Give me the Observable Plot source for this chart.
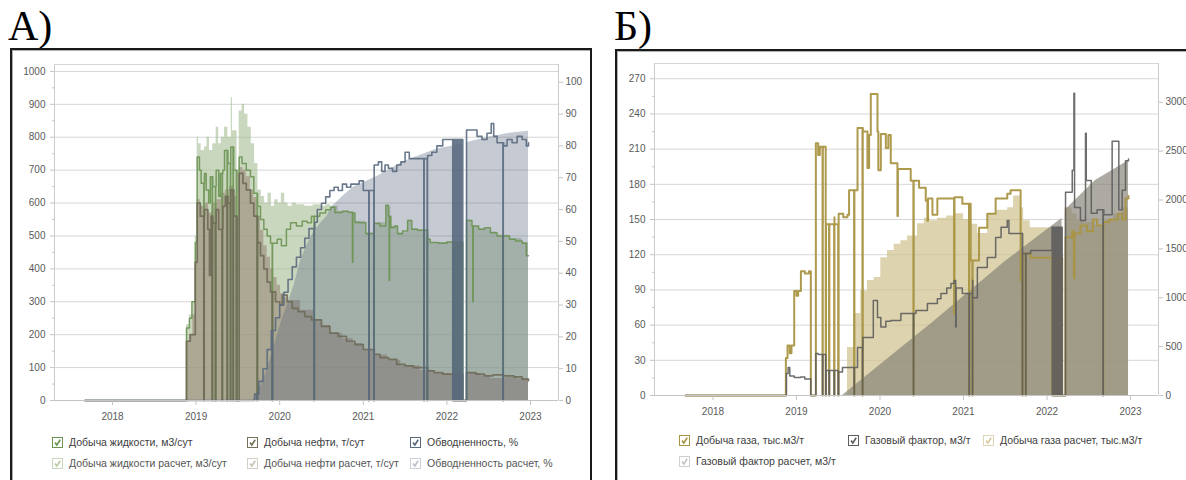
<!DOCTYPE html>
<html><head><meta charset="utf-8">
<script src="https://cdn.jsdelivr.net/npm/d3@7"></script>
<script src="https://cdn.jsdelivr.net/npm/@observablehq/plot@0.6"></script>
<style>
body{margin:0;background:#fff;width:1186px;height:480px;overflow:hidden;position:relative;font-family:"Liberation Sans",Arial,sans-serif;}
.lbl{position:absolute;font-family:"Liberation Serif","Times New Roman",serif;font-size:42px;line-height:42px;color:#000;}
.box{position:absolute;border:2px solid #1a1a1a;box-shadow:inset 1px 1px 0 #b0b0b0;background:#fff;}
.chart{position:absolute;}
.leg{position:absolute;font-size:10.5px;color:#404040;white-space:nowrap;display:flex;align-items:center;height:14px;}
.cb{display:inline-block;box-sizing:border-box;width:11px;height:11px;border:1px solid;margin-right:6px;background:#fff;position:relative;}
.cb svg{position:absolute;left:0;top:0;}
</style></head>
<body>
<div class="lbl" style="left:8px;top:5px;">А)</div>
<div class="lbl" style="left:614px;top:5px;">Б)</div>
<div class="box" style="left:10px;top:48px;width:578px;height:460px;"></div>
<div class="box" style="left:615px;top:49px;width:600px;height:460px;"></div>
<div id="chartA" class="chart" style="left:12px;top:50px;"></div>
<div id="chartB" class="chart" style="left:617px;top:50px;"></div>
<div id="legends"></div>
<script>
// ---------- ticks ----------
const yearTicks = [2018, 2019, 2020, 2021, 2022, 2023];
const leftTicksA = [0, 100, 200, 300, 400, 500, 600, 700, 800, 900, 1000];
const rightTicksA = [0, 10, 20, 30, 40, 50, 60, 70, 80, 90, 100];
const leftTicksB = [0, 30, 60, 90, 120, 150, 180, 210, 240, 270];
const rightTicksB = [0, 500, 1000, 1500, 2000, 2500, 3000];

// ---------- Panel A data (decimal year, value) ----------
const liqFactA = [[2017.67,0],[2018.885,220],[2018.92,250],[2018.95,300],[2018.99,480],[2019.013,740],[2019.04,700],[2019.06,660],[2019.1,690],[2019.12,640],[2019.15,600],[2019.17,680],[2019.2,650],[2019.24,700],[2019.27,620],[2019.29,690],[2019.32,700],[2019.34,760],[2019.38,720],[2019.415,770],[2019.45,700],[2019.49,0],[2019.515,740],[2019.55,720],[2019.6,700],[2019.65,680],[2019.69,630],[2019.735,590],[2019.77,550],[2019.81,520],[2019.85,500],[2019.89,478],[2019.97,490],[2020.02,470],[2020.08,520],[2020.13,540],[2020.2,530],[2020.27,545],[2020.33,540],[2020.38,560],[2020.48,570],[2020.55,580],[2020.61,587],[2020.66,571],[2020.75,575],[2020.82,572],[2020.87,420],[2020.875,570],[2020.9,541],[2020.96,540],[2021.03,507],[2021.13,538],[2021.2,530],[2021.27,593],[2021.3,560],[2021.31,365],[2021.315,560],[2021.33,526],[2021.38,530],[2021.41,507],[2021.47,515],[2021.53,547],[2021.58,520],[2021.65,517],[2021.77,490],[2021.8,480],[2021.9,478],[2022.0,482],[2022.19,0],[2022.235,547],[2022.3,530],[2022.31,300],[2022.315,530],[2022.38,520],[2022.45,525],[2022.52,510],[2022.6,500],[2022.75,490],[2022.82,485],[2022.9,478],[2022.95,440],[2022.976,440]];
const oilFactA = [[2017.67,0],[2018.885,180],[2018.93,200],[2018.99,420],[2019.013,600],[2019.05,560],[2019.1,580],[2019.14,520],[2019.16,380],[2019.18,560],[2019.2,540],[2019.24,580],[2019.27,520],[2019.32,590],[2019.35,620],[2019.38,600],[2019.415,640],[2019.45,560],[2019.49,0],[2019.515,690],[2019.56,660],[2019.6,640],[2019.65,600],[2019.69,560],[2019.735,480],[2019.77,440],[2019.81,400],[2019.85,360],[2019.89,330],[2019.95,300],[2020.0,290],[2020.03,320],[2020.09,300],[2020.15,280],[2020.22,270],[2020.3,255],[2020.38,245],[2020.5,225],[2020.6,205],[2020.7,195],[2020.8,180],[2020.9,170],[2021.0,155],[2021.13,140],[2021.2,130],[2021.3,125],[2021.4,110],[2021.5,105],[2021.6,100],[2021.77,90],[2021.85,85],[2021.95,80],[2022.19,0],[2022.235,85],[2022.35,80],[2022.45,75],[2022.55,78],[2022.68,75],[2022.8,72],[2022.9,65],[2022.976,60]];
const wcFactA = [[2017.67,0],[2019.66,0],[2019.7,2],[2019.75,6],[2019.8,10],[2019.85,16],[2019.9,22],[2019.95,26],[2020.0,30],[2020.05,34],[2020.1,38],[2020.15,42],[2020.2,45],[2020.25,48],[2020.3,51],[2020.35,54],[2020.42,56],[2020.45,60],[2020.5,62],[2020.55,64],[2020.6,66],[2020.65,67],[2020.7,66],[2020.75,68],[2020.8,67],[2020.85,68],[2020.95,69],[2021.0,66],[2021.13,74],[2021.18,75],[2021.22,72],[2021.26,74],[2021.3,73],[2021.35,72],[2021.4,74],[2021.45,75],[2021.5,78],[2021.55,76],[2021.77,77],[2021.82,78],[2021.88,80],[2021.95,82],[2022.19,0],[2022.235,85],[2022.32,85],[2022.36,83],[2022.42,82],[2022.48,84],[2022.53,87],[2022.56,83],[2022.6,81],[2022.68,80],[2022.72,82],[2022.78,81],[2022.84,83],[2022.9,82],[2022.95,80],[2022.976,81]];
const liqCalcA = [[2018.885,230],[2018.92,260],[2018.96,300],[2018.99,500],[2019.013,800],[2019.03,780],[2019.06,760],[2019.1,770],[2019.13,800],[2019.16,760],[2019.2,780],[2019.24,830],[2019.27,780],[2019.3,800],[2019.34,830],[2019.38,800],[2019.42,920],[2019.435,820],[2019.49,0],[2019.515,880],[2019.55,900],[2019.58,870],[2019.62,830],[2019.66,780],[2019.7,720],[2019.74,640],[2019.78,620],[2019.82,600],[2019.86,630],[2019.9,590],[2019.94,610],[2019.98,600],[2020.02,630],[2020.06,600],[2020.1,590],[2020.15,600],[2020.2,595],[2020.3,590],[2020.4,595],[2020.5,590],[2020.55,595],[2020.61,590],[2020.7,575],[2020.82,572],[2020.9,545],[2021.03,510],[2021.13,540],[2021.27,590],[2021.33,530],[2021.41,510],[2021.53,548],[2021.58,522],[2021.65,518],[2021.76,490],[2021.8,480],[2022.0,482],[2022.19,0],[2022.235,548],[2022.3,530],[2022.38,522],[2022.52,512],[2022.6,502],[2022.75,492],[2022.9,480],[2022.976,450]];
const oilCalcA = [[2018.885,180],[2018.92,200],[2018.96,260],[2018.99,420],[2019.013,610],[2019.05,590],[2019.1,600],[2019.15,570],[2019.2,600],[2019.25,610],[2019.3,630],[2019.35,640],[2019.4,650],[2019.45,620],[2019.49,0],[2019.515,708],[2019.56,700],[2019.6,680],[2019.65,640],[2019.69,617],[2019.73,560],[2019.77,517],[2019.81,470],[2019.85,435],[2019.89,400],[2019.93,374],[2019.97,350],[2020.01,325],[2020.05,314],[2020.09,304],[2020.25,274],[2020.41,243],[2020.5,228],[2020.61,204],[2020.75,188],[2020.88,173],[2021.0,155],[2021.15,138],[2021.29,122],[2021.45,105],[2021.68,91],[2021.85,82],[2022.04,76],[2022.19,0],[2022.235,82],[2022.4,75],[2022.52,67],[2022.7,70],[2022.85,65],[2022.976,60]];
const wcCalcA = [[2019.68,0],[2019.8,6],[2019.9,14],[2020.0,23],[2020.09,30],[2020.17,36],[2020.25,44],[2020.33,49],[2020.41,53],[2020.5,56],[2020.57,58],[2020.61,60.5],[2020.75,64],[2020.88,67],[2021.17,70.5],[2021.48,75],[2021.88,79],[2022.185,80.5],[2022.19,0],[2022.23,0],[2022.235,81],[2022.49,82.7],[2022.75,84],[2022.976,84.6]];
const stopsA = [2019.092,2019.192,2019.231,2019.311,2019.371,2019.41,2019.442,2019.482,2019.73,2019.91,2020.41,2021.066,2021.126,2021.724,2021.764,2022.07,2022.082,2022.094,2022.106,2022.118,2022.13,2022.142,2022.154,2022.166,2022.176,2022.67];

// ---------- Panel B data ----------
const gasFactB = [[2017.67,0],[2018.873,32],[2018.893,42.6],[2018.92,36],[2018.94,42.6],[2018.973,89],[2019.0,85],[2019.02,89],[2019.053,106],[2019.1,104],[2019.15,106],[2019.172,0],[2019.232,215],[2019.26,205],[2019.28,212],[2019.315,146],[2019.455,152],[2019.499,0],[2019.505,155],[2019.56,152],[2019.611,154],[2019.63,175],[2019.731,228],[2019.795,225],[2019.85,194],[2019.87,222],[2019.89,257],[2019.97,225],[2019.98,192],[2020.01,223],[2020.07,211],[2020.1,222],[2020.129,198],[2020.209,153],[2020.215,193],[2020.368,183],[2020.468,177],[2020.548,166],[2020.568,149],[2020.575,168],[2020.628,154],[2020.687,168],[2020.887,70],[2020.892,169],[2020.986,163.5],[2021.07,146],[2021.086,115],[2021.186,143],[2021.285,155],[2021.385,168],[2021.524,172],[2021.564,175],[2021.684,98],[2021.708,121],[2021.804,117.5],[2022.182,0],[2022.222,135],[2022.3,140],[2022.322,100],[2022.33,138],[2022.4,145],[2022.48,140],[2022.55,150],[2022.6,145],[2022.68,148],[2022.75,150],[2022.85,155],[2022.9,150],[2022.94,168],[2022.976,170]];
const gfFactB = [[2017.67,0],[2018.873,0],[2018.88,225],[2018.9,287],[2018.92,200],[2018.973,184],[2019.05,190],[2019.1,170],[2019.172,0],[2019.232,430],[2019.26,420],[2019.315,256],[2019.499,0],[2019.505,240],[2019.551,287],[2019.731,491],[2019.795,594],[2019.92,972],[2019.97,798],[2020.01,700],[2020.07,760],[2020.129,768],[2020.25,839],[2020.43,870],[2020.568,942],[2020.687,990],[2020.73,1044],[2020.8,1100],[2020.85,1146],[2020.887,1177],[2020.907,700],[2020.912,1100],[2020.986,1044],[2021.07,1000],[2021.11,1180],[2021.166,1310],[2021.285,1412],[2021.385,1617],[2021.45,1720],[2021.524,1791],[2021.544,1658],[2021.708,1453],[2021.804,1484],[2022.06,1720],[2022.182,0],[2022.222,2078],[2022.302,2303],[2022.322,3091],[2022.33,1924],[2022.4,1791],[2022.461,2682],[2022.47,2200],[2022.53,1863],[2022.6,1900],[2022.68,1850],[2022.78,2600],[2022.86,1900],[2022.9,2100],[2022.94,2400],[2022.976,2420]];
const gasCalcB = [[2019.551,0],[2019.611,41],[2019.69,70],[2019.77,89],[2019.85,98],[2019.93,100.5],[2020.01,117.5],[2020.09,123.5],[2020.17,129],[2020.25,132],[2020.33,136],[2020.45,146.5],[2020.53,151],[2020.6,149],[2020.69,151],[2020.8,153],[2020.88,155],[2021.0,150],[2021.1,146],[2021.17,138],[2021.29,155],[2021.4,158],[2021.53,160],[2021.6,170],[2021.68,160],[2021.72,149],[2021.8,143],[2022.04,143],[2022.185,0],[2022.215,160],[2022.3,155],[2022.36,149],[2022.45,148],[2022.58,145],[2022.7,150],[2022.8,155],[2022.9,160],[2022.976,160]];
const gfCalcB = [[2019.551,0],[2020.49,650],[2020.61,731],[2021.5,1370],[2022.04,1720],[2022.18,1810],[2022.185,0],[2022.215,0],[2022.22,1900],[2022.25,1924],[2022.58,2200],[2022.976,2400]];
const stopsB = [2019.312,2019.35,2019.39,2019.451,2019.69,2019.79,2020.40,2021.066,2021.106,2021.704,2021.744,2022.063,2022.075,2022.087,2022.099,2022.111,2022.123,2022.135,2022.147,2022.159,2022.171,2022.67];

// ---------- legend labels ----------
const legendA = [
  ["Добыча жидкости, м3/сут", "Добыча нефти, т/сут", "Обводненность, %"],
  ["Добыча жидкости расчет, м3/сут", "Добыча нефти расчет, т/сут", "Обводненность расчет, %"]
];
const legendB = [
  ["Добыча газа, тыс.м3/т", "Газовый фактор, м3/т", "Добыча газа расчет, тыс.м3/т"],
  ["Газовый фактор расчет, м3/т"]
];

// insert shutdown drops (value 0 at each read stop date)
function withStops(arr, stops) {
  const out = arr.map(d => [d[0], d[1]]);
  const t0 = arr[0][0], t1 = arr[arr.length - 1][0];
  for (const s of stops) {
    if (s <= t0 || s >= t1) continue;
    let v = arr[0][1];
    for (const d of arr) { if (d[0] <= s) v = d[1]; else break; }
    out.push([s, 0], [s + 0.004, v]);
  }
  return out.sort((a, b) => a[0] - b[0]);
}

const tickColor = "#c4c4c4", labelColor = "#5a5a5a";

function makePanel(o) {
  const X = d => d[0];
  const marks = [
    Plot.gridY(o.leftTicks.filter(v => v > 0), {stroke: "#d6d6d6", strokeOpacity: 1}),
    Plot.ruleY([o.yMax], {stroke: "#d6d6d6"}),
    Plot.ruleX([o.xDomain[0], o.xDomain[1]], {stroke: "#cccccc"})
  ];
  for (const a of o.areas) {
    marks.push(Plot.areaY(a.data, {x: X, y: d => d[1] * a.k, curve: a.curve, fill: a.fill, fillOpacity: a.opacity}));
  }
  for (const l of o.lines) {
    marks.push(Plot.line(l.data, {x: X, y: d => d[1] * l.k, curve: "step-after", stroke: l.color, strokeWidth: l.width, strokeOpacity: l.opacity}));
  }
  marks.push(
    Plot.ruleY([0], {stroke: tickColor}),
    Plot.axisX({ticks: yearTicks, tickFormat: d => String(d), tickSize: 5, tickPadding: 7, stroke: tickColor, fill: labelColor, label: null}),
    Plot.axisY({anchor: "left", ticks: o.leftTicks, tickFormat: d => String(d), tickSize: 4, tickPadding: 5, stroke: tickColor, fill: labelColor, label: null}),
    Plot.axisY({anchor: "left", ticks: o.leftMinor, tickSize: 2, tickFormat: () => "", stroke: tickColor, label: null}),
    Plot.axisY({anchor: "right", ticks: o.rightTicks.map(v => v * o.k), tickFormat: d => String(Math.round(d / o.k)), tickSize: 4, tickPadding: 3, stroke: tickColor, fill: labelColor, label: null})
  );
  return Plot.plot({
    width: o.width, height: o.height,
    marginLeft: o.ml, marginRight: o.mr, marginTop: o.mt, marginBottom: o.mb,
    x: {domain: o.xDomain, label: null},
    y: {domain: [0, o.yMax], label: null},
    style: {background: "transparent", fontFamily: "Liberation Sans, Arial, sans-serif", fontSize: "10px", overflow: "visible"},
    marks
  });
}

const kA = 9.67;
const chartA = makePanel({
  width: 580, height: 382, ml: 42, mr: 34, mt: 14, mb: 32,
  xDomain: [2017.306, 2023.335], yMax: 1021,
  leftTicks: leftTicksA, leftMinor: leftTicksA.slice(0, -1).map(v => v + 50),
  rightTicks: rightTicksA, k: kA,
  areas: [
    {data: liqCalcA, k: 1, curve: "step-after", fill: "#a5bc94", opacity: 0.6},
    {data: oilCalcA, k: 1, curve: "step-after", fill: "#998977", opacity: 0.6},
    {data: wcCalcA, k: kA, curve: "linear", fill: "#5c6881", opacity: 0.35}
  ],
  lines: [
    {data: withStops(liqFactA, stopsA), k: 1, color: "#6c9452", width: 1.5, opacity: 0.9},
    {data: withStops(oilFactA, stopsA), k: 1, color: "#6f6a58", width: 1.7, opacity: 0.9},
    {data: withStops(wcFactA, stopsA), k: kA, color: "#5a6a80", width: 1.6, opacity: 0.9}
  ]
});
document.getElementById("chartA").appendChild(chartA);

const kB = 1 / 12;
const chartB = makePanel({
  width: 569, height: 382, ml: 37, mr: 28, mt: 13, mb: 37,
  xDomain: [2017.30, 2023.335], yMax: 283,
  leftTicks: leftTicksB, leftMinor: leftTicksB.slice(0, -1).map(v => v + 15),
  rightTicks: rightTicksB, k: kB,
  areas: [
    {data: gasCalcB, k: 1, curve: "step-after", fill: "#cfc18c", opacity: 0.7},
    {data: gfCalcB, k: kB, curve: "linear", fill: "#858276", opacity: 0.68}
  ],
  lines: [
    {data: withStops(gasFactB, stopsB), k: 1, color: "#a99543", width: 2, opacity: 0.95},
    {data: withStops(gfFactB, stopsB), k: kB, color: "#5d5d5d", width: 1.5, opacity: 0.9}
  ]
});
document.getElementById("chartB").appendChild(chartB);

// ---------- legends ----------
function checkbox(border, mark) {
  return `<span class="cb" style="border-color:${border}"><svg width="9" height="9" viewBox="0 0 9 9"><path d="M2 4.6 L3.8 7 L7.2 1.8" fill="none" stroke="${mark}" stroke-width="1.6"/></svg></span>`;
}
const legItems = [
  {text: legendA[0][0], x: 52, y: 435, b: "#6c9452", m: "#6c9452", c: "#404040"},
  {text: legendA[0][1], x: 247, y: 435, b: "#77705c", m: "#77705c", c: "#404040"},
  {text: legendA[0][2], x: 410, y: 435, b: "#5a6a80", m: "#5a6a80", c: "#404040"},
  {text: legendA[1][0], x: 52, y: 456, b: "#c9d7bd", m: "#b9cca8", c: "#555"},
  {text: legendA[1][1], x: 247, y: 456, b: "#d2cfc5", m: "#c8c3b6", c: "#555"},
  {text: legendA[1][2], x: 410, y: 456, b: "#ccd0d8", m: "#bcc2cc", c: "#555"},
  {text: legendB[0][0], x: 679, y: 433, b: "#a99543", m: "#a99543", c: "#404040"},
  {text: legendB[0][1], x: 848, y: 433, b: "#5d5d5d", m: "#5d5d5d", c: "#404040"},
  {text: legendB[0][2], x: 983, y: 433, b: "#ddd5b5", m: "#d6cba0", c: "#404040"},
  {text: legendB[1][0], x: 679, y: 454, b: "#cfcfcf", m: "#c4c4c4", c: "#404040"}
];
document.getElementById("legends").innerHTML = legItems.map(it =>
  `<div class="leg" style="left:${it.x}px;top:${it.y}px;color:${it.c}">${checkbox(it.b, it.m)}<span>${it.text}</span></div>`
).join("");
</script>
</body></html>
